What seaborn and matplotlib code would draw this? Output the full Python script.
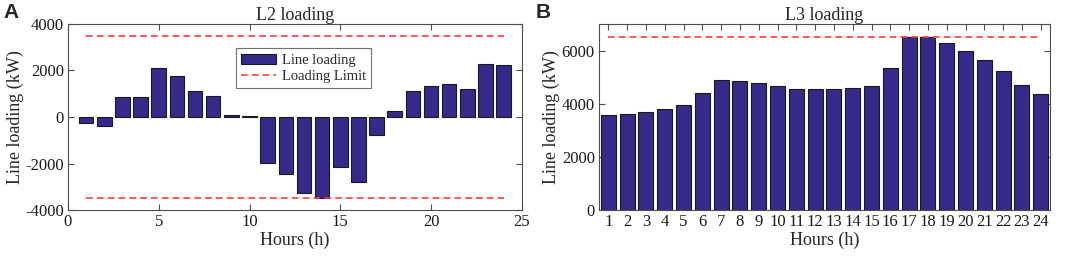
import matplotlib
matplotlib.use("Agg")
import matplotlib.pyplot as plt
import seaborn as sns
import numpy as np
import pandas as pd
from matplotlib.patches import Patch
from matplotlib.lines import Line2D

hours = list(range(1, 25))
l2_loading = [-260, -370, 850, 870, 2100, 1760, 1120, 900, 80, 60,
              -1960, -2450, -3270, -3500, -2140, -2810, -790, 270,
              1100, 1350, 1400, 1200, 2290, 2220]
l2_limit = 3500
l3_loading = [3560, 3600, 3680, 3800, 3950, 4420, 4900, 4850, 4775, 4650,
              4560, 4560, 4540, 4590, 4660, 5340, 6500, 6500, 6300, 6000,
              5625, 5225, 4710, 4350]
l3_limit = 6500

bar_color = "#35298A"
limit_color = "#FF3B3B"
frame_color = "#4D4D4D"

sns.set_theme(style="white")
plt.rcParams["font.family"] = ["Liberation Serif", "DejaVu Serif"]

fig = plt.figure(figsize=(10.65, 2.6), dpi=100)
ax1 = fig.add_axes([0.0638, 0.192, 0.4262, 0.716])
ax2 = fig.add_axes([0.5624, 0.192, 0.4236, 0.716])

df2 = pd.DataFrame({"Hour": hours, "Load": l2_loading})
df3 = pd.DataFrame({"Hour": [str(h) for h in hours], "Load": l3_loading})

dash = (0, (4, 2.5))

sns.barplot(data=df2, x="Hour", y="Load", native_scale=True, ax=ax1,
            color=bar_color, saturation=1, edgecolor="#1a1a1a", linewidth=0.8,
            width=0.8, errorbar=None)
ax1.plot([hours[0], hours[-1]], [l2_limit, l2_limit], ls=dash, color=limit_color, lw=1.2)
ax1.plot([hours[0], hours[-1]], [-l2_limit, -l2_limit], ls=dash, color=limit_color, lw=1.2)
ax1.set_xlim(0, 25)
ax1.set_ylim(-4000, 4000)
ax1.set_xticks([0, 5, 10, 15, 20, 25])
ax1.set_xticklabels(["0", "5", "10", "15", "20", "25"])
ax1.set_yticks([-4000, -2000, 0, 2000, 4000])
ax1.set_yticklabels(["-4000", "-2000", "0", "2000", "4000"])
ax1.set_title("L2 loading", fontsize=13, pad=3)
ax1.set_xlabel("Hours (h)", fontsize=13, labelpad=1)
ax1.set_ylabel("Line loading (kW)", fontsize=13, labelpad=1)

handles = [Patch(facecolor=bar_color, edgecolor="#1a1a1a", linewidth=0.8),
           Line2D([0], [0], ls=dash, color=limit_color, lw=1.2)]
leg = ax1.legend(handles, ["Line loading", "Loading Limit"], loc="upper left",
                 bbox_to_anchor=(0.37, 0.868), fontsize=10.5, frameon=True, fancybox=False,
                 edgecolor=frame_color, handlelength=2.4, handletextpad=0.4,
                 borderpad=0.35, labelspacing=0.2, borderaxespad=0)
leg.get_frame().set_linewidth(0.8)

sns.barplot(data=df3, x="Hour", y="Load", ax=ax2,
            color=bar_color, saturation=1, edgecolor="#1a1a1a", linewidth=0.8,
            width=0.8, errorbar=None)
ax2.plot([0, len(hours) - 1], [l3_limit, l3_limit], ls=dash, color=limit_color, lw=1.2)
ax2.set_xlim(-0.5, len(hours) - 0.5)
ax2.set_ylim(0, 7000)
ax2.set_yticks([0, 2000, 4000, 6000])
ax2.set_yticklabels(["0", "2000", "4000", "6000"])
ax2.set_title("L3 loading", fontsize=13, pad=3)
ax2.set_xlabel("Hours (h)", fontsize=13, labelpad=1)
ax2.set_ylabel("Line loading (kW)", fontsize=13, labelpad=1)

for ax in (ax1, ax2):
    for s in ax.spines.values():
        s.set_visible(True)
        s.set_color(frame_color)
        s.set_linewidth(0.8)
    ax.tick_params(axis="both", which="both", direction="in", length=4, width=0.8,
                   color=frame_color, labelsize=12, top=True, right=True,
                   bottom=True, left=True, labelcolor="#1a1a1a", pad=3)
    ax.set_facecolor("white")

fig.text(0.003, 0.99, "A", fontsize=15, fontweight="bold", family="Liberation Sans", va="top", ha="left")
fig.text(0.503, 0.99, "B", fontsize=15, fontweight="bold", family="Liberation Sans", va="top", ha="left")

fig.savefig("out.png", dpi=100, facecolor="white")
